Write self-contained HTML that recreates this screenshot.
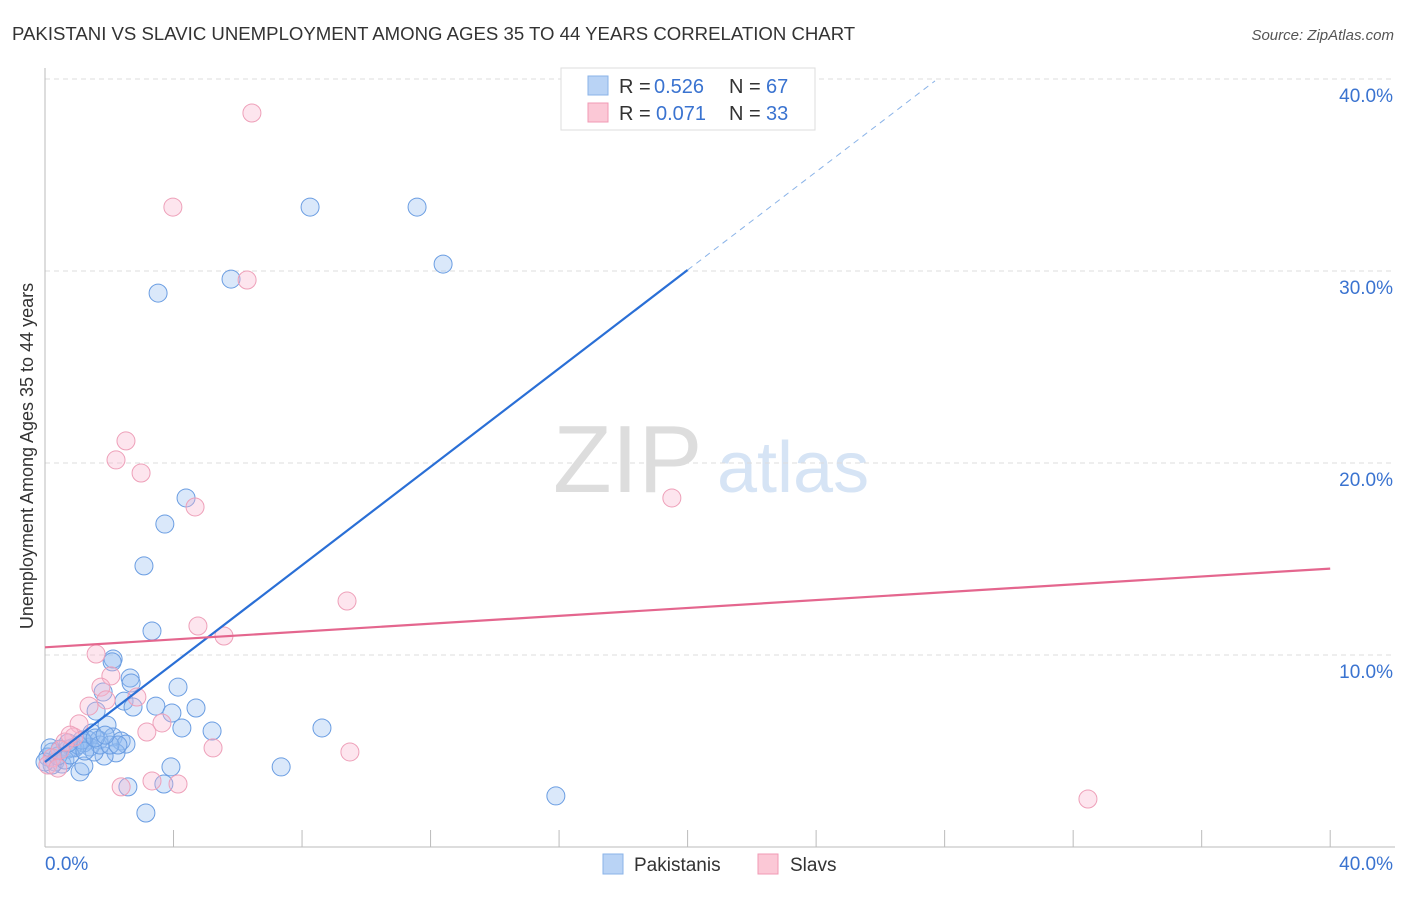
<!DOCTYPE html>
<html><head><meta charset="utf-8"><style>
body{margin:0;background:#fff;font-family:"Liberation Sans",sans-serif}
svg text{font-family:"Liberation Sans",sans-serif}
</style></head><body>
<svg id="chart" width="1406" height="892">
<text x="12" y="40" font-size="18.6" fill="#333">PAKISTANI VS SLAVIC UNEMPLOYMENT AMONG AGES 35 TO 44 YEARS CORRELATION CHART</text>
<text x="1394" y="40" font-size="15" fill="#555" font-style="italic" text-anchor="end">Source: ZipAtlas.com</text>
<text x="33" y="456" font-size="18" fill="#333" text-anchor="middle" transform="rotate(-90 33 456)">Unemployment Among Ages 35 to 44 years</text>
<g>
<text x="553" y="492" font-size="96" fill="#ddd" font-family="Liberation Serif,serif">ZIP</text>
<text x="717" y="492" font-size="72" fill="#d6e4f5">atlas</text>
</g>
<g id="grid"></g><g id="axes"></g><g id="marks"></g><g id="lines"></g>
<g>
<rect x="561" y="68" width="254" height="62" fill="#fff" stroke="#ddd"/>
<rect x="588" y="76" width="20" height="19" fill="#b9d3f5" stroke="#8ab3e8"/>
<rect x="588" y="103" width="20" height="19" fill="#fbc8d6" stroke="#f09ab4"/>
<g font-size="20">
<text x="619" y="93" fill="#333">R =</text><text x="654" y="93" fill="#3a73d0">0.526</text>
<text x="729" y="93" fill="#333">N =</text><text x="766" y="93" fill="#3a73d0">67</text></g>
<g font-size="20">
<text x="619" y="120" fill="#333">R =</text><text x="656" y="120" fill="#3a73d0">0.071</text>
<text x="729" y="120" fill="#333">N =</text><text x="766" y="120" fill="#3a73d0">33</text></g>
</g>
<g>
<rect x="603" y="854" width="20" height="20" fill="#b9d3f5" stroke="#8ab3e8"/>
<text x="634" y="871" font-size="19" fill="#333">Pakistanis</text>
<rect x="758" y="854" width="20" height="20" fill="#fbc8d6" stroke="#f09ab4"/>
<text x="790" y="871" font-size="19" fill="#333">Slavs</text>
</g>
</svg>
<script>
const yTicks=[10,20,30,40];
const yTickLabels=["10.0%","20.0%","30.0%","40.0%"];
const xTickVals=[0,4,8,12,16,20,24,28,32,36,40];
const bluePx=[[158,293],[310,207],[417,207],[443,264],[231,279],[186,498],[165,524],[144,566],[152,631],[113,659],[112,662],[130,678],[131,683],[178,687],[103,692],[96,711],[124,701],[133,707],[156,706],[172,713],[196,708],[182,728],[212,731],[322,728],[107,725],[92,733],[88,740],[99,740],[113,737],[121,741],[126,744],[116,753],[104,756],[90,747],[84,743],[75,748],[68,749],[60,749],[52,752],[48,757],[55,762],[62,764],[72,748],[80,772],[84,766],[171,767],[281,767],[164,784],[128,787],[146,813],[556,796],[52,765],[45,762],[65,760],[78,745],[94,752],[100,745],[110,745],[118,745],[82,740],[58,756],[70,755],[50,748],[85,751],[95,738],[105,735],[68,743]];
const pinkPx=[[252,113],[173,207],[247,280],[126,441],[116,460],[141,473],[195,507],[672,498],[347,601],[198,626],[224,636],[96,654],[111,676],[101,687],[137,697],[106,700],[89,706],[79,724],[162,723],[74,737],[147,732],[213,748],[350,752],[152,781],[178,784],[121,787],[1088,799],[60,750],[52,758],[48,765],[65,742],[70,735],[58,768]];
const pakX=bluePx.map(p=>+((p[0]-45)/32.13).toFixed(2));
const pakY=bluePx.map(p=>+((847-p[1])/19.2).toFixed(2));
const slavX=pinkPx.map(p=>+((p[0]-45)/32.13).toFixed(2));
const slavY=pinkPx.map(p=>+((847-p[1])/19.2).toFixed(2));
const pakLine=[[0,4.43],[20,30.05],[27.7,39.9]];
const slavLine=[[0,10.4],[40,14.5]];
const X=v=>45+v*32.13, Y=v=>847-v*19.2;
const NS="http://www.w3.org/2000/svg";
function mk(t,a,parent){const e=document.createElementNS(NS,t);for(const k in a)e.setAttribute(k,a[k]);document.getElementById(parent).appendChild(e);return e;}
yTicks.forEach((v,i)=>{
 const g=mk('line',{x1:45,x2:1395,y1:Y(v),y2:Y(v),stroke:'#ddd','stroke-dasharray':'5,4'},'grid');
 
 
 const t=mk('text',{x:1393,y:Y(v)+23,'font-size':19,fill:'#3a73d0','text-anchor':'end'},'axes');t.textContent=yTickLabels[i];
 
 
});
let a=mk('line',{x1:45,x2:45,y1:68,y2:847,stroke:'#bbb'},'axes');


a=mk('line',{x1:45,x2:1395,y1:847,y2:847,stroke:'#bbb'},'axes');


xTickVals.forEach(v=>{const t=mk('line',{x1:X(v),x2:X(v),y1:830,y2:847,stroke:'#bbb'},'axes');
 
 });
let t=mk('text',{x:45,y:870,'font-size':19,fill:'#3a73d0'},'axes');t.textContent='0.0%';


t=mk('text',{x:1393,y:870,'font-size':19,fill:'#3a73d0','text-anchor':'end'},'axes');t.textContent='40.0%';


pakX.forEach((x,i)=>{const c=mk('circle',{cx:X(x),cy:Y(pakY[i]),r:9,fill:'rgba(150,190,240,0.35)',stroke:'#6a9de2','stroke-width':1},'marks');
 
 });
slavX.forEach((x,i)=>{const c=mk('circle',{cx:X(x),cy:Y(slavY[i]),r:9,fill:'rgba(248,180,205,0.35)',stroke:'#eea0b9','stroke-width':1},'marks');
 
 });
let l=mk('line',{x1:X(pakLine[0][0]),y1:Y(pakLine[0][1]),x2:X(pakLine[1][0]),y2:Y(pakLine[1][1]),stroke:'#2a6fd6','stroke-width':2.2},'lines');


l=mk('line',{x1:X(pakLine[1][0]),y1:Y(pakLine[1][1]),x2:X(pakLine[2][0]),y2:Y(pakLine[2][1]),stroke:'#8ab3e8','stroke-width':1,'stroke-dasharray':'6,5'},'lines');


l=mk('line',{x1:X(slavLine[0][0]),y1:Y(slavLine[0][1]),x2:X(slavLine[1][0]),y2:Y(slavLine[1][1]),stroke:'#e4668e','stroke-width':2.2},'lines');


</script>
</body></html>
